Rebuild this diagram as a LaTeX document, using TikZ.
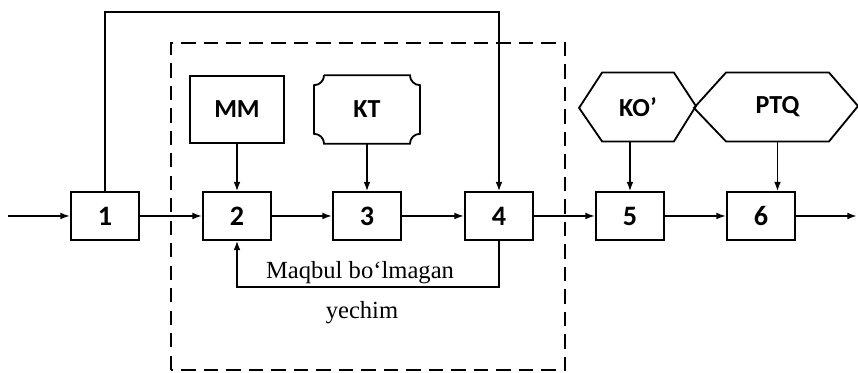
\documentclass[tikz,border=0pt]{standalone}
\usepackage{fontspec}
\setmainfont{Liberation Serif}
\newfontfamily\lblfont{Carlito}
\usetikzlibrary{arrows.meta}

\begin{document}
\begin{tikzpicture}[x=0.025cm, y=0.025cm, line width=1.3pt,
    arr/.style={-{Latex[length=2.4mm,width=1.7mm]}},
    blk/.style={draw, minimum width=1.7cm, minimum height=1.18cm, inner sep=0pt,
        font=\lblfont\bfseries\fontsize{20}{22}\selectfont},
    src/.style={minimum height=1.67cm, inner sep=0pt,
        font=\lblfont\bfseries\fontsize{18.5}{20}\selectfont},
    note/.style={font=\fontsize{17.5}{20}\selectfont}]
    \useasboundingbox (0,0) rectangle (858,373);

    \draw[line width=2pt, dash pattern=on 10pt off 6pt] (171,3) rectangle (565,330);

    \node[blk] (b1) at (105,157) {1};
    \node[blk] (b2) at (237,157) {2};
    \node[blk] (b3) at (367,157) {3};
    \node[blk] (b4) at (499,157) {4};
    \node[blk] (b5) at (630,157) {5};
    \node[blk] (b6) at (761,157) {6};

    \node[src, draw, minimum width=2.33cm] (mm) at (237,263.5) {MM};
    \node[src, minimum width=2.6cm] (kt) at (367,263.5) {KT};
    \draw ([xshift=0.25cm]kt.north west) -- ([xshift=-0.25cm]kt.north east)
        arc[start angle=180, end angle=270, radius=0.25cm] -- ([yshift=0.25cm]kt.south east)
        arc[start angle=90, end angle=180, radius=0.25cm] -- ([xshift=0.25cm]kt.south west)
        arc[start angle=0, end angle=90, radius=0.25cm] -- ([yshift=-0.25cm]kt.north west)
        arc[start angle=270, end angle=360, radius=0.25cm];

    \node[src, minimum width=1.75cm, minimum height=1.675cm] (ko) at (638,266) {KO’};
    \draw (ko.north west) -- (ko.north east) -- ++(22,-33.5) -- (ko.south east)
        -- (ko.south west) -- ++(-23,33.5) -- cycle;
    \node[src, minimum width=2.53cm, minimum height=1.675cm] (ptq) at (777.5,266) {PTQ};
    \draw (ptq.north west) -- (ptq.north east) -- ++(29,-33.5) -- (ptq.south east)
        -- (ptq.south west) -- ++(-32,33.5) -- cycle;

    \coordinate (in) at (8,157);
    \coordinate (out) at (857,157);
    \coordinate (top) at (0,361);
    \coordinate (fb) at (0,86);

    \draw[arr] (in) -- (b1);
    \draw[arr] (b1) -- (b2);
    \draw[arr] (b2) -- (b3);
    \draw[arr] (b3) -- (b4);
    \draw[arr] (b4) -- (b5);
    \draw[arr] (b5) -- (b6);
    \draw[arr] (b6) -- (out);

    \draw[arr] (mm) -- (b2);
    \draw[arr] (kt) -- (b3);
    \draw[arr] (b5.north |- ko.south) -- (b5.north);
    \draw[arr] (ptq.south) -- (ptq.south |- b6.north);

    \draw[arr] (b1.north) -- (b1.north |- top) -| (b4.north);
    \draw[arr] (b4.south) -- (b4.south |- fb) -| (b2.south);

    \node[note] (t1) at (360,100) {Maqbul bo‘lmagan};
    \node[note] (t2) at (362,60) {yechim};
\end{tikzpicture}
\end{document}
